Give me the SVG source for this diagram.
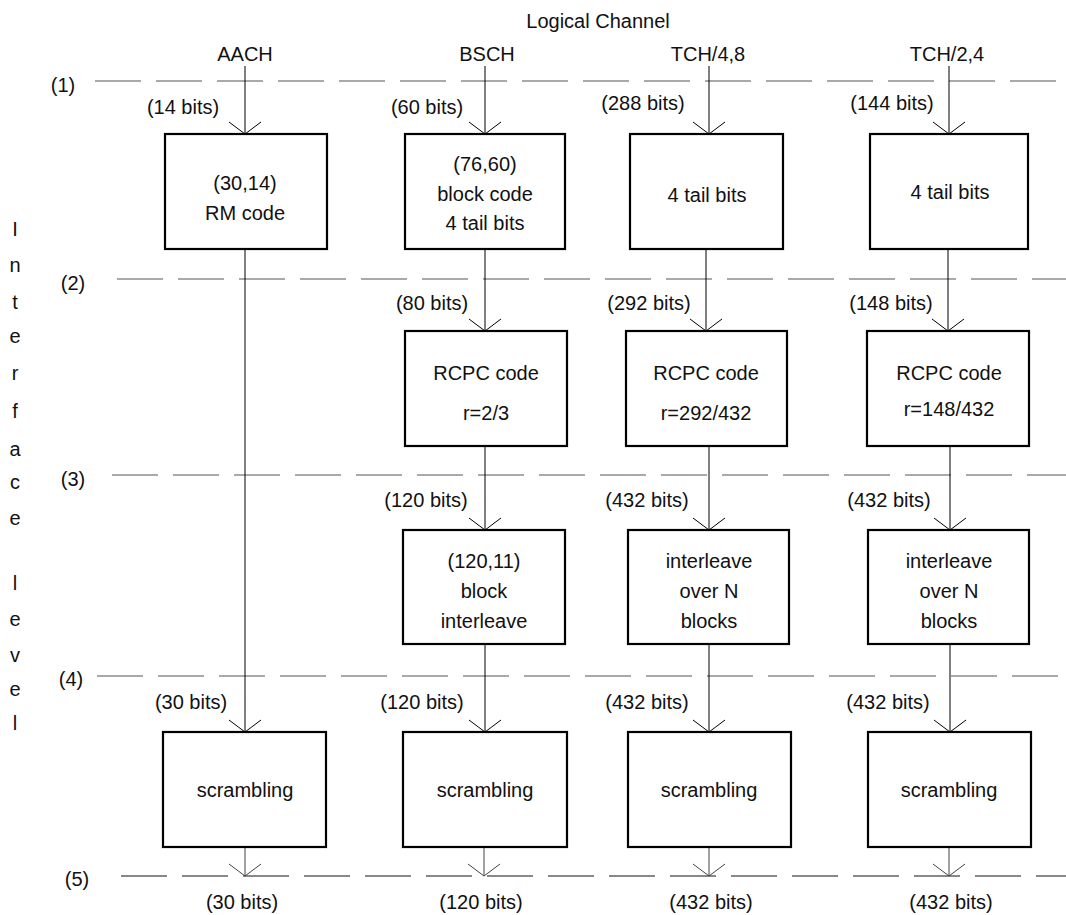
<svg xmlns="http://www.w3.org/2000/svg" width="1066" height="915" viewBox="0 0 1066 915">
<style>
text{font-family:"Liberation Sans",Arial,sans-serif;font-size:20px;fill:#111;text-anchor:middle}
.box{fill:#fff;stroke:#000;stroke-width:2.2}
.lvl{stroke:#555;stroke-width:1.2;stroke-dasharray:46 15;fill:none}
.lvl5{stroke:#888;stroke-width:1.8;stroke-dasharray:46 15;fill:none}
.con{stroke:#000;stroke-width:1;fill:none;marker-end:url(#arr)}
.con5{stroke:#444;stroke-width:1;fill:none;marker-end:url(#arr5)}
</style>
<defs>
<marker id="arr" viewBox="-14 -18 16 36" refX="0" refY="0" markerWidth="16" markerHeight="36" markerUnits="userSpaceOnUse" orient="auto">
<path d="M-12,-16 L0,0 L-12,16" fill="none" stroke="#000" stroke-width="1"/>
</marker>
<marker id="arr5" viewBox="-14 -18 16 36" refX="0" refY="0" markerWidth="16" markerHeight="36" markerUnits="userSpaceOnUse" orient="auto">
<path d="M-12,-16 L0,0 L-12,16" fill="none" stroke="#444" stroke-width="1"/>
</marker>
</defs>
<rect width="1066" height="915" fill="#fff"/>

<g id="headers">
<text x="598" y="28">Logical Channel</text>
<text x="245" y="61">AACH</text>
<text x="487" y="61">BSCH</text>
<text x="708" y="61">TCH/4,8</text>
<text x="947" y="61">TCH/2,4</text>
</g>

<g id="side-label">
<text x="15" y="236">I</text>
<text x="15" y="272">n</text>
<text x="15" y="309">t</text>
<text x="15" y="343">e</text>
<text x="15" y="380">r</text>
<text x="15" y="418">f</text>
<text x="15" y="456">a</text>
<text x="15" y="489">c</text>
<text x="15" y="525">e</text>
<text x="15" y="590">l</text>
<text x="15" y="626">e</text>
<text x="15" y="662">v</text>
<text x="15" y="696">e</text>
<text x="15" y="730">l</text>
</g>

<g id="levels">
<line class="lvl" x1="95" y1="81" x2="1056" y2="81"/>
<line class="lvl" x1="117" y1="279" x2="1066" y2="279"/>
<line class="lvl" x1="112" y1="475" x2="1066" y2="475"/>
<line class="lvl" x1="97" y1="676" x2="1066" y2="676"/>
<line class="lvl5" x1="121" y1="876" x2="1066" y2="876"/>
<text x="63" y="92">(1)</text>
<text x="73" y="290">(2)</text>
<text x="73" y="486">(3)</text>
<text x="71" y="686">(4)</text>
<text x="77" y="886">(5)</text>
</g>

<g id="connectors">
<line class="con" x1="245" y1="66" x2="245" y2="134"/>
<line class="con" x1="245" y1="249" x2="245" y2="732"/>
<line class="con5" x1="245" y1="847" x2="245" y2="876"/>

<line class="con" x1="485" y1="66" x2="485" y2="134"/>
<line class="con" x1="485" y1="249" x2="485" y2="331"/>
<line class="con" x1="485" y1="446" x2="485" y2="530"/>
<line class="con" x1="485" y1="644" x2="485" y2="732"/>
<line class="con5" x1="484" y1="847" x2="484" y2="876"/>

<line class="con" x1="709" y1="66" x2="709" y2="134"/>
<line class="con" x1="706" y1="249" x2="706" y2="331"/>
<line class="con" x1="709" y1="446" x2="709" y2="530"/>
<line class="con" x1="709" y1="644" x2="709" y2="732"/>
<line class="con5" x1="709" y1="847" x2="709" y2="876"/>

<line class="con" x1="949" y1="66" x2="949" y2="134"/>
<line class="con" x1="948" y1="249" x2="948" y2="331"/>
<line class="con" x1="950" y1="446" x2="950" y2="530"/>
<line class="con" x1="950" y1="644" x2="950" y2="732"/>
<line class="con5" x1="949" y1="847" x2="949" y2="876"/>
</g>

<g id="bit-labels">
<text x="183" y="114">(14 bits)</text>
<text x="427" y="114">(60 bits)</text>
<text x="643" y="110">(288 bits)</text>
<text x="892" y="110">(144 bits)</text>
<text x="432" y="310">(80 bits)</text>
<text x="649" y="310">(292 bits)</text>
<text x="891" y="310">(148 bits)</text>
<text x="426" y="507">(120 bits)</text>
<text x="647" y="507">(432 bits)</text>
<text x="889" y="507">(432 bits)</text>
<text x="191" y="709">(30 bits)</text>
<text x="422" y="709">(120 bits)</text>
<text x="647" y="709">(432 bits)</text>
<text x="888" y="709">(432 bits)</text>
<text x="242" y="909">(30 bits)</text>
<text x="481" y="909">(120 bits)</text>
<text x="711" y="909">(432 bits)</text>
<text x="951" y="909">(432 bits)</text>
</g>

<g id="aach-rm">
<rect class="box" x="165" y="134" width="162" height="115"/>
<text x="245" y="190">(30,14)</text>
<text x="245" y="220">RM code</text>
</g>
<g id="bsch-block">
<rect class="box" x="405" y="134" width="160" height="115"/>
<text x="485" y="171">(76,60)</text>
<text x="485" y="201">block code</text>
<text x="485" y="230">4 tail bits</text>
</g>
<g id="tch48-tail">
<rect class="box" x="630" y="134" width="153" height="115"/>
<text x="707" y="202">4 tail bits</text>
</g>
<g id="tch24-tail">
<rect class="box" x="870" y="134" width="158" height="115"/>
<text x="950" y="199">4 tail bits</text>
</g>

<g id="bsch-rcpc">
<rect class="box" x="405" y="331" width="162" height="115"/>
<text x="486" y="380">RCPC code</text>
<text x="486" y="420">r=2/3</text>
</g>
<g id="tch48-rcpc">
<rect class="box" x="626" y="331" width="161" height="115"/>
<text x="706" y="380">RCPC code</text>
<text x="706" y="420">r=292/432</text>
</g>
<g id="tch24-rcpc">
<rect class="box" x="867" y="331" width="162" height="115"/>
<text x="949" y="380">RCPC code</text>
<text x="949" y="416">r=148/432</text>
</g>

<g id="bsch-interleave">
<rect class="box" x="403" y="530" width="162" height="114"/>
<text x="484" y="568">(120,11)</text>
<text x="484" y="598">block</text>
<text x="484" y="628">interleave</text>
</g>
<g id="tch48-interleave">
<rect class="box" x="628" y="530" width="161" height="114"/>
<text x="709" y="568">interleave</text>
<text x="709" y="598">over N</text>
<text x="709" y="628">blocks</text>
</g>
<g id="tch24-interleave">
<rect class="box" x="868" y="530" width="161" height="114"/>
<text x="949" y="568">interleave</text>
<text x="949" y="598">over N</text>
<text x="949" y="628">blocks</text>
</g>

<g id="aach-scrambling">
<rect class="box" x="163" y="732" width="163" height="115"/>
<text x="245" y="797">scrambling</text>
</g>
<g id="bsch-scrambling">
<rect class="box" x="403" y="732" width="164" height="115"/>
<text x="485" y="797">scrambling</text>
</g>
<g id="tch48-scrambling">
<rect class="box" x="628" y="732" width="163" height="115"/>
<text x="709" y="797">scrambling</text>
</g>
<g id="tch24-scrambling">
<rect class="box" x="868" y="732" width="163" height="115"/>
<text x="949" y="797">scrambling</text>
</g>
</svg>
